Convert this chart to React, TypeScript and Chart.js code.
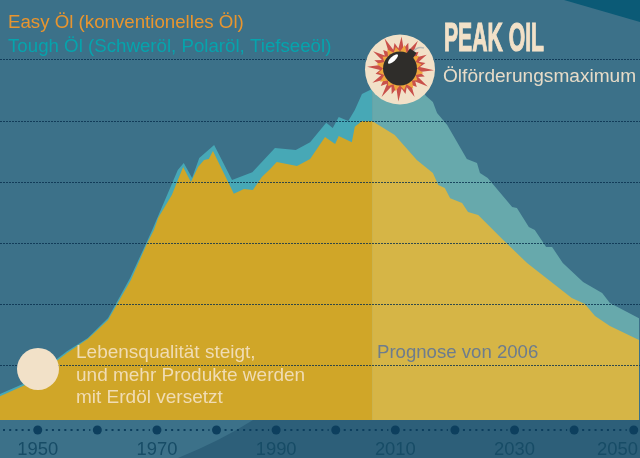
import React, { useEffect, useRef } from "react";
import { Chart, registerables } from "chart.js";

Chart.register(...registerables);

const easyYears = [1943.67,1947.9,1954.9,1958.4,1961.8,1965.65,1968.3,1969.5,1970.2,1972.5,1974.4,1975.7,1976.9,1977.9,1978.7,1979.4,1982.9,1984.6,1986.1,1987.6,1989.0,1990.1,1993.5,1995.7,1998.2,1999.9,2000.5,2002.7,2003.2,2004.4,2006.1,2009.9,2013.6,2016.3,2017.2,2018.3,2019.2,2021.2,2022.2,2023.9,2028.1,2032.1,2039.6,2041.8,2043.5,2046.0,2050.9];
const easyValues = [7.8,11.4,21.9,26.5,32.7,45.8,57.5,62.1,66.0,73.5,82.7,77.8,82.7,85.0,85.3,87.9,73.9,75.5,75.2,79.4,82.0,84.3,83.0,85.3,92.5,90.2,92.8,90.8,95.8,97.7,97.7,93.1,85.0,80.7,76.8,75.8,72.5,70.9,68.0,67.0,58.8,51.3,39.9,37.9,34.0,30.7,26.1];
const totalYears = [1943.67,1947.9,1954.9,1958.4,1961.8,1965.5,1968.2,1969.2,1973.5,1974.5,1975.9,1977.1,1979.6,1982.6,1986.0,1989.8,1993.3,1995.7,1998.4,1999.5,2000.5,2002.1,2003.2,2004.4,2006.1,2008.3,2010.8,2013.8,2015.3,2016.3,2017.0,2018.7,2022.0,2023.7,2024.2,2025.5,2029.6,2030.4,2032.4,2033.4,2035.3,2036.3,2038.1,2041.5,2044.7,2046.0,2050.9];
const totalValues = [8.5,12.1,22.5,26.8,33.3,46.4,57.8,62.1,81.7,84.0,79.1,85.6,89.9,78.4,81.0,88.9,88.2,90.8,97.1,95.4,99.0,97.7,101.3,106.5,108.2,109.5,109.8,108.5,105.6,103.9,100.3,96.4,85.3,84.0,80.7,79.1,69.6,69.3,63.1,62.1,56.5,56.5,51.3,45.1,41.5,38.2,33.2];
const labelYears = [1950,1970,1990,2010,2030,2050];
const dotYears = [1950,1960,1970,1980,1990,2000,2010,2020,2030,2040,2050];
const gridLevels = [17.65,37.65,57.65,77.65,97.65,117.65];
const forecastStart = 2006.1;

const series = (xs: number[], ys: number[], keep: (x: number) => boolean) =>
  xs.map((x, i) => ({ x, y: ys[i] })).filter((p) => keep(p.x));
const past = (x: number) => x <= forecastStart;
const future = (x: number) => x >= forecastStart;

const SANS = '"Liberation Sans", Arial, sans-serif';
const CREAM = "#f2e1c8";

function area(label: string, data: { x: number; y: number }[], color: string) {
  return {
    label,
    data,
    backgroundColor: color,
    borderWidth: 0,
    pointRadius: 0,
    tension: 0,
    fill: { value: 0 },
  };
}

function burst(ctx: CanvasRenderingContext2D, cx: number, cy: number, outer: number[], inner: number, color: string, rot: number) {
  ctx.beginPath();
  const n = outer.length;
  for (let i = 0; i < n; i++) {
    const a = rot + (i / n) * Math.PI * 2;
    const b = a + Math.PI / n;
    const ox = cx + Math.cos(a) * outer[i];
    const oy = cy + Math.sin(a) * outer[i];
    if (i === 0) ctx.moveTo(ox, oy);
    else ctx.lineTo(ox, oy);
    ctx.lineTo(cx + Math.cos(b) * inner, cy + Math.sin(b) * inner);
  }
  ctx.closePath();
  ctx.fillStyle = color;
  ctx.fill();
}

const backdrop = {
  id: "backdrop",
  beforeDraw(chart: any) {
    const { ctx, width, height, scales } = chart;
    const bottom = scales.y.bottom;
    ctx.save();
    ctx.fillStyle = "#3c7189";
    ctx.fillRect(0, 0, width, height);
    ctx.fillStyle = "#0b5a76";
    ctx.beginPath();
    ctx.moveTo(564, 0);
    ctx.lineTo(640, 22);
    ctx.lineTo(640, 0);
    ctx.closePath();
    ctx.fill();
    ctx.fillStyle = "#2d5f79";
    ctx.beginPath();
    ctx.moveTo(178, 458);
    ctx.quadraticCurveTo(222, 440, 253, bottom);
    ctx.lineTo(640, bottom);
    ctx.lineTo(640, 458);
    ctx.closePath();
    ctx.fill();
    ctx.restore();

    const items = scales.x.getLabelItems();
    const last = items[items.length - 1];
    if (last) {
      last.options.textAlign = "right";
      last.options.translation[0] = 638;
    }
  },
};

const overlay = {
  id: "overlay",
  afterDraw(chart: any) {
    const { ctx, scales } = chart;
    const x = scales.x;
    ctx.save();

    // timeline
    const axisY = 430;
    ctx.strokeStyle = "#0d3f5e";
    ctx.lineWidth = 2;
    ctx.setLineDash([2, 4.2]);
    const px = dotYears.map((y) => x.getPixelForValue(y));
    ctx.beginPath();
    ctx.moveTo(3, axisY);
    ctx.lineTo(px[0] - 7, axisY);
    for (let i = 0; i + 1 < px.length; i++) {
      ctx.moveTo(px[i] + 8, axisY);
      ctx.lineTo(px[i + 1] - 7, axisY);
    }
    ctx.stroke();
    ctx.setLineDash([]);
    ctx.fillStyle = "#0d3f5e";
    px.forEach((p: number) => {
      ctx.beginPath();
      ctx.arc(p, axisY, 4.5, 0, Math.PI * 2);
      ctx.fill();
    });

    // cream circles
    ctx.fillStyle = CREAM;
    ctx.beginPath();
    ctx.arc(38, 369, 21, 0, Math.PI * 2);
    ctx.fill();
    ctx.beginPath();
    ctx.arc(400, 69.5, 35, 0, Math.PI * 2);
    ctx.fill();

    // explosion
    const cx = 400;
    const cy = 68.5;
    burst(ctx, cx, cy, [34,26,33,25,32,26,33,27,34,26,31,25,33,27,32,25,34,26,32,27,33,25,30,26], 20, "#c9504a", 0.05);
    burst(ctx, cx, cy, [24,21,24,22,23,21,24,22,24,21,23,22,24,21,23,22], 17, "#eea63c", 0.2);

    // bomb
    ctx.strokeStyle = "#b9b9b5";
    ctx.lineWidth = 1.6;
    ctx.beginPath();
    ctx.moveTo(413, 52);
    ctx.quadraticCurveTo(417, 46, 424, 48);
    ctx.stroke();
    ctx.fillStyle = "#2f2d2a";
    ctx.save();
    ctx.translate(411, 54);
    ctx.rotate(0.6);
    ctx.fillRect(-4, -4, 8, 8);
    ctx.restore();
    ctx.beginPath();
    ctx.arc(cx, cy, 17, 0, Math.PI * 2);
    ctx.fill();
    ctx.fillStyle = "#ffffff";
    ctx.beginPath();
    ctx.ellipse(393, 59, 6.5, 2.4, -0.75, 0, Math.PI * 2);
    ctx.fill();

    // texts
    ctx.textBaseline = "alphabetic";
    ctx.textAlign = "left";
    ctx.font = `18.7px ${SANS}`;
    ctx.fillStyle = "#e8952f";
    ctx.fillText("Easy Öl (konventionelles Öl)", 8, 28);
    ctx.fillStyle = "#05a4ad";
    ctx.fillText("Tough Öl (Schweröl, Polaröl, Tiefseeöl)", 8, 52);

    ctx.fillStyle = CREAM;
    ctx.strokeStyle = CREAM;
    ctx.lineWidth = 1.2;
    ctx.font = `bold 40.5px ${SANS}`;
    ctx.fillText("PEAK OIL", 444, 50.5, 100);
    ctx.strokeText("PEAK OIL", 444, 50.5, 100);
    ctx.font = `19.1px ${SANS}`;
    ctx.fillStyle = "#e8dcc8";
    ctx.fillText("Ölförderungsmaximum", 443, 82);

    ctx.font = `19px ${SANS}`;
    ctx.fillStyle = "#f0dcb4";
    ctx.fillText("Lebensqualität steigt,", 76, 358);
    ctx.fillText("und mehr Produkte werden", 76, 381);
    ctx.fillText("mit Erdöl versetzt", 76, 403);

    ctx.font = `18.6px ${SANS}`;
    ctx.fillStyle = "#6d7c8d";
    ctx.fillText("Prognose von 2006", 377, 358);
    ctx.restore();
  },
};

export default function App() {
  const ref = useRef<HTMLCanvasElement>(null);
  useEffect(() => {
    document.body.style.margin = "0";
    const chart = new Chart(ref.current as HTMLCanvasElement, {
      type: "line",
      data: {
        datasets: [
          area("Easy Öl", series(easyYears, easyValues, past), "#d0a628"),
          area("Easy Öl Prognose", series(easyYears, easyValues, future), "#d6b546"),
          area("Tough Öl", series(totalYears, totalValues, past), "#47a8b6"),
          area("Tough Öl Prognose", series(totalYears, totalValues, future), "#67a9ac"),
        ],
      } as any,
      options: {
        responsive: false,
        animation: false,
        events: [],
        layout: { padding: 0 },
        plugins: { legend: { display: false }, tooltip: { enabled: false } },
        scales: {
          x: {
            type: "linear",
            min: 1943.67,
            max: 2051.05,
            grid: { display: false },
            border: { display: false },
            afterBuildTicks: (s: any) => {
              s.ticks = labelYears.map((value) => ({ value }));
            },
            afterFit: (s: any) => {
              s.height = 38;
              s.paddingLeft = 0;
              s.paddingRight = 0;
            },
            ticks: {
              autoSkip: false,
              maxRotation: 0,
              padding: 10.5,
              color: "#174c66",
              font: { family: SANS, size: 18.4 },
              callback: (v: any) => String(v),
            },
          },
          y: {
            type: "linear",
            min: 0,
            max: 137.25,
            afterBuildTicks: (s: any) => {
              s.ticks = gridLevels.map((value) => ({ value }));
            },
            afterFit: (s: any) => {
              s.width = 0;
            },
            border: { display: false, dash: [2, 1] },
            grid: {
              z: 1,
              color: "rgba(8,48,78,0.8)",
              lineWidth: 1,
              drawTicks: false,
            },
            ticks: { display: false },
          },
        },
      } as any,
      plugins: [backdrop, overlay],
    } as any);
    return () => chart.destroy();
  }, []);
  return <canvas ref={ref} width={640} height={458} style={{ display: "block", width: 640, height: 458 }} />;
}
